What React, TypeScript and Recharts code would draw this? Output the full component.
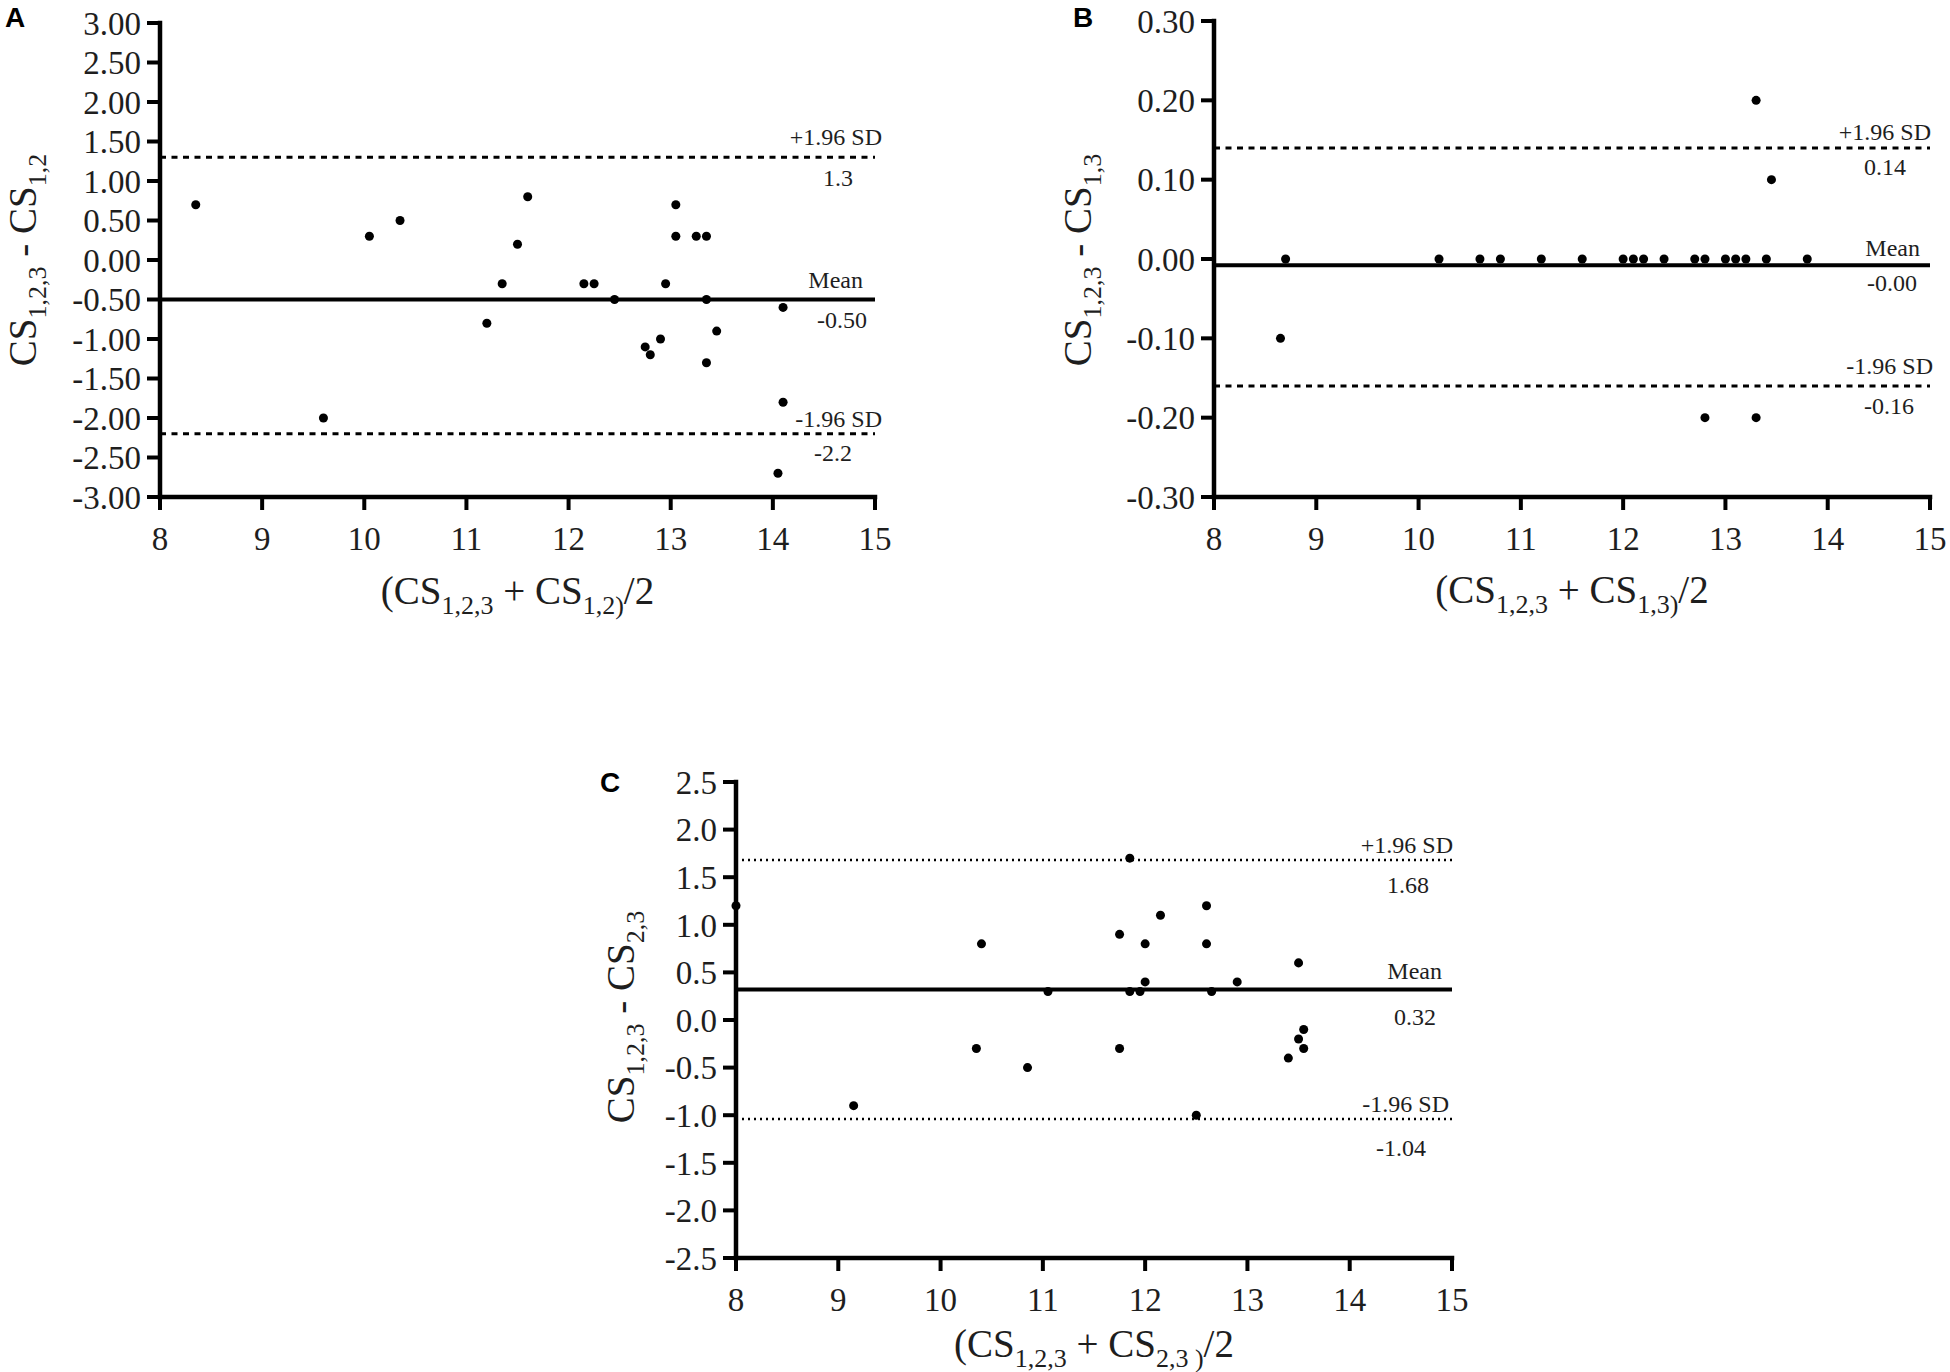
import React from 'react';
import { ScatterChart, Scatter, XAxis, YAxis, ZAxis, ReferenceLine } from 'recharts';

// ---------- data ----------
const X_TICKS = [8, 9, 10, 11, 12, 13, 14, 15];

const A_X = [8.35, 9.6, 10.05, 10.35, 11.2, 11.35, 11.5, 11.6, 12.15, 12.25, 12.45, 12.75, 12.8, 12.9, 12.95, 13.05, 13.05, 13.25, 13.35, 13.35, 13.35, 13.45, 14.1, 14.1, 14.05];
const A_Y = [0.7, -2.0, 0.3, 0.5, -0.8, -0.3, 0.2, 0.8, -0.3, -0.3, -0.5, -1.1, -1.2, -1.0, -0.3, 0.7, 0.3, 0.3, 0.3, -0.5, -1.3, -0.9, -0.6, -1.8, -2.7];
const A_Y_TICKS = [-3, -2.5, -2, -1.5, -1, -0.5, 0, 0.5, 1, 1.5, 2, 2.5, 3];
const A_LINES = [1.3, -0.5, -2.2];
const A_LINE_TEXT = ['1.3', '-0.50', '-2.2'];

const B_X = [8.65, 8.7, 10.2, 10.6, 10.8, 11.2, 11.6, 12.0, 12.1, 12.2, 12.4, 12.7, 12.8, 13.0, 13.1, 13.2, 13.4, 13.8, 13.3, 13.45, 12.8, 13.3];
const B_Y = [-0.1, 0, 0, 0, 0, 0, 0, 0, 0, 0, 0, 0, 0, 0, 0, 0, 0, 0, 0.2, 0.1, -0.2, -0.2];
const B_Y_TICKS = [-0.3, -0.2, -0.1, 0, 0.1, 0.2, 0.3];
const B_LINES = [0.14, -0.008, -0.16];
const B_LINE_TEXT = ['0.14', '-0.00', '-0.16'];

const C_X = [8.0, 9.15, 10.35, 10.4, 10.85, 11.05, 11.75, 11.75, 11.85, 11.85, 11.95, 12.0, 12.0, 12.15, 12.5, 12.6, 12.6, 12.65, 12.9, 13.4, 13.5, 13.5, 13.55, 13.55];
const C_Y = [1.2, -0.9, -0.3, 0.8, -0.5, 0.3, -0.3, 0.9, 1.7, 0.3, 0.3, 0.4, 0.8, 1.1, -1.0, 1.2, 0.8, 0.3, 0.4, -0.4, 0.6, -0.2, -0.1, -0.3];
const C_Y_TICKS = [-2.5, -2, -1.5, -1, -0.5, 0, 0.5, 1, 1.5, 2, 2.5];
const C_LINES = [1.68, 0.32, -1.04];
const C_LINE_TEXT = ['1.68', '0.32', '-1.04'];

const LINE_NAMES = ['+1.96 SD', 'Mean', '-1.96 SD'];

// ---------- styling ----------
const FONT = '"Liberation Serif", "Times New Roman", serif';
const TXT = '#1e1e1e';

type Seg = { t: string; sub?: boolean };
type Offs = { tDx: number; tDy: number; bDx: number; bDy: number };

const toPoints = (xs: number[], ys: number[]) => xs.map((x, i) => ({ x, y: ys[i] }));

function Title({ segs, x, y, rotate }: { segs: Seg[]; x: number; y: number; rotate?: boolean }) {
  const SHIFT = 10;
  return (
    <text
      x={x}
      y={y}
      textAnchor="middle"
      fontFamily={FONT}
      fill={TXT}
      style={{ whiteSpace: 'pre' }}
      transform={rotate ? `rotate(-90, ${x}, ${y})` : undefined}
    >
      {segs.map((s, i) => {
        const prevSub = i > 0 && !!segs[i - 1].sub;
        let dy = 0;
        if (s.sub && !prevSub) dy = SHIFT;
        else if (!s.sub && prevSub) dy = -SHIFT;
        return (
          <tspan key={i} fontSize={s.sub ? 26 : 39} dy={dy}>
            {s.t}
          </tspan>
        );
      })}
    </text>
  );
}

const makeLineLabel = (name: string, valueText: string, o: Offs) => (props: any) => {
  const vb = props.viewBox || {};
  const right = (vb.x || 0) + (vb.width || 0);
  const y = vb.y || 0;
  return (
    <g>
      <text x={right + o.tDx} y={y + o.tDy} textAnchor="end" fontFamily={FONT} fontSize={24} fill={TXT}>
        {name}
      </text>
      <text x={right + o.bDx} y={y + o.bDy} textAnchor="middle" fontFamily={FONT} fontSize={24} fill={TXT}>
        {valueText}
      </text>
    </g>
  );
};

type PanelProps = {
  left: number;
  top: number;
  width: number;
  height: number;
  mTop: number;
  mRight: number;
  yAxisWidth: number;
  xAxisHeight: number;
  xs: number[];
  ys: number[];
  yTicks: number[];
  digits: number;
  lines: number[];
  lineText: string[];
  offs: Offs[];
  sdDash: string;
  sdWidth: number;
  ySegs: Seg[];
  xSegs: Seg[];
  yTitleX: number;
  yTitleDy: number;
  xTitleDy: number;
};

function Panel(p: PanelProps) {
  const data = toPoints(p.xs, p.ys);
  const tickStyle = { fontFamily: FONT, fontSize: 33, fill: TXT };
  return (
    <div style={{ position: 'absolute', left: p.left, top: p.top, width: p.width, height: p.height }}>
      <ScatterChart
        width={p.width}
        height={p.height}
        margin={{ top: p.mTop, right: p.mRight, bottom: 0, left: 0 }}
      >
        <XAxis
          type="number"
          dataKey="x"
          domain={[8, 15]}
          ticks={X_TICKS}
          interval={0}
          height={p.xAxisHeight}
          tickSize={13}
          tickMargin={17}
          tick={tickStyle}
          axisLine={{ stroke: '#000', strokeWidth: 4.5, strokeLinecap: 'square' }}
          tickLine={{ stroke: '#000', strokeWidth: 4 }}
          label={(lp: any) => {
            const vb = lp.viewBox || {};
            return <Title segs={p.xSegs} x={(vb.x || 0) + (vb.width || 0) / 2} y={(vb.y || 0) + p.xTitleDy} />;
          }}
        />
        <YAxis
          type="number"
          dataKey="y"
          domain={[p.yTicks[0], p.yTicks[p.yTicks.length - 1]]}
          ticks={p.yTicks}
          interval={0}
          width={p.yAxisWidth}
          tickSize={13}
          tickMargin={6}
          tick={tickStyle}
          tickFormatter={(v: number) => v.toFixed(p.digits)}
          axisLine={{ stroke: '#000', strokeWidth: 4.5, strokeLinecap: 'square' }}
          tickLine={{ stroke: '#000', strokeWidth: 4 }}
          label={(lp: any) => {
            const vb = lp.viewBox || {};
            return (
              <Title
                segs={p.ySegs}
                x={(vb.x || 0) + p.yTitleX}
                y={(vb.y || 0) + (vb.height || 0) / 2 + p.yTitleDy}
                rotate
              />
            );
          }}
        />
        <ZAxis range={[80, 80]} />
        {p.lines.map((v, i) => (
          <ReferenceLine
            key={i}
            y={v}
            stroke="#000"
            strokeWidth={i === 1 ? 4 : p.sdWidth}
            strokeDasharray={i === 1 ? undefined : p.sdDash}
            label={makeLineLabel(LINE_NAMES[i], p.lineText[i], p.offs[i])}
          />
        ))}
        <Scatter data={data} fill="#000" isAnimationActive={false} />
      </ScatterChart>
    </div>
  );
}

const A_OFFS: Offs[] = [
  { tDx: 7, tDy: -12, bDx: -37, bDy: 28.5 },
  { tDx: -12, tDy: -11.5, bDx: -33, bDy: 28.5 },
  { tDx: 7, tDy: -7, bDx: -42, bDy: 27 },
];
const B_OFFS: Offs[] = [
  { tDx: 1, tDy: -8, bDx: -45, bDy: 27 },
  { tDx: -10, tDy: -9, bDx: -38, bDy: 26 },
  { tDx: 3, tDy: -12, bDx: -41, bDy: 28 },
];
const C_OFFS: Offs[] = [
  { tDx: 1, tDy: -7, bDx: -44, bDy: 33 },
  { tDx: -10, tDy: -10.5, bDx: -37, bDy: 35.5 },
  { tDx: -3, tDy: -7, bDx: -51, bDy: 37 },
];

export default function App() {
  return (
    <div style={{ position: 'absolute', left: 0, top: 0, width: 1950, height: 1372, background: '#fff', overflow: 'hidden' }}>
      <Panel
        left={0}
        top={0}
        width={900}
        height={620}
        mTop={23}
        mRight={25}
        yAxisWidth={160}
        xAxisHeight={123}
        xs={A_X}
        ys={A_Y}
        yTicks={A_Y_TICKS}
        digits={2}
        lines={A_LINES}
        lineText={A_LINE_TEXT}
        offs={A_OFFS}
        sdDash="6 5.5"
        sdWidth={3}
        ySegs={[{ t: 'CS' }, { t: '1,2,3', sub: true }, { t: ' - CS' }, { t: '1,2', sub: true }]}
        xSegs={[{ t: '(CS' }, { t: '1,2,3', sub: true }, { t: ' + CS' }, { t: '1,2)', sub: true }, { t: '/2' }]}
        yTitleX={36}
        yTitleDy={0}
        xTitleDy={107}
      />
      <Panel
        left={1040}
        top={0}
        width={910}
        height={620}
        mTop={21}
        mRight={20}
        yAxisWidth={174}
        xAxisHeight={123}
        xs={B_X}
        ys={B_Y}
        yTicks={B_Y_TICKS}
        digits={2}
        lines={B_LINES}
        lineText={B_LINE_TEXT}
        offs={B_OFFS}
        sdDash="6 5.5"
        sdWidth={3}
        ySegs={[{ t: 'CS' }, { t: '1,2,3', sub: true }, { t: ' - CS' }, { t: '1,3', sub: true }]}
        xSegs={[{ t: '(CS' }, { t: '1,2,3', sub: true }, { t: ' + CS' }, { t: '1,3)', sub: true }, { t: '/2' }]}
        yTitleX={51}
        yTitleDy={1}
        xTitleDy={106}
      />
      <Panel
        left={580}
        top={760}
        width={900}
        height={612}
        mTop={22}
        mRight={28}
        yAxisWidth={156}
        xAxisHeight={114}
        xs={C_X}
        ys={C_Y}
        yTicks={C_Y_TICKS}
        digits={1}
        lines={C_LINES}
        lineText={C_LINE_TEXT}
        offs={C_OFFS}
        sdDash="2 4"
        sdWidth={2.5}
        ySegs={[{ t: 'CS' }, { t: '1,2,3', sub: true }, { t: ' - CS' }, { t: '2,3', sub: true }]}
        xSegs={[{ t: '(CS' }, { t: '1,2,3', sub: true }, { t: ' + CS' }, { t: '2,3 )', sub: true }, { t: '/2' }]}
        yTitleX={54}
        yTitleDy={-3}
        xTitleDy={99}
      />
      <svg width={1950} height={1372} style={{ position: 'absolute', left: 0, top: 0, pointerEvents: 'none' }}>
        <g fontFamily='"Liberation Sans", Arial, sans-serif' fontWeight="bold" fontSize={28} fill="#000">
          <text x={5} y={27}>A</text>
          <text x={1073} y={27}>B</text>
          <text x={600} y={792}>C</text>
        </g>
      </svg>
    </div>
  );
}
